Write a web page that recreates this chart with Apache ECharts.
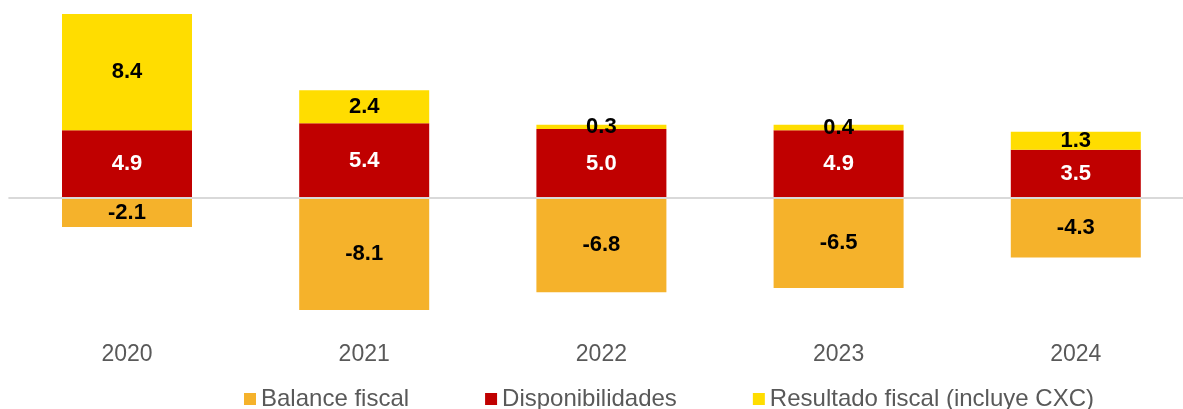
<!DOCTYPE html>
<html>
<head>
<meta charset="utf-8">
<script src="https://cdn.jsdelivr.net/npm/echarts@6/dist/echarts.min.js"></script>
<style>
  html, body { margin: 0; padding: 0; background: #ffffff; overflow: hidden; }
  #chart { width: 1200px; height: 409px; }
</style>
</head>
<body>
<div id="chart"></div>
<script>
// Years on the horizontal axis
const years = ['2020', '2021', '2022', '2023', '2024'];
// Stacked components, % values
const balanceFiscal = [-2.1, -8.1, -6.8, -6.5, -4.3];
const disponibilidades = [4.9, 5.4, 5.0, 4.9, 3.5];
const resultadoFiscal = [8.4, 2.4, 0.3, 0.4, 1.3];

const seriesNames = ['Balance fiscal', 'Disponibilidades', 'Resultado fiscal (incluye CXC)'];
const colors = ['#F5B22B', '#C00000', '#FFDD00'];
const labelColors = ['#000000', '#ffffff', '#000000'];
const FONT = '"Liberation Sans", Arial, sans-serif';

const chart = echarts.init(document.getElementById('chart'), null, { renderer: 'canvas' });

function barSeries(i, data) {
  return {
    name: seriesNames[i],
    type: 'bar',
    stack: 'total',
    barWidth: 130,
    data: data,
    itemStyle: { color: colors[i] },
    label: {
      show: true,
      position: 'inside',
      color: labelColors[i],
      fontFamily: FONT,
      fontWeight: 'bold',
      fontSize: 22,
      formatter: p => p.value.toFixed(1)
    },
    emphasis: { disabled: true }
  };
}

// zero reference line across the plot
const s0 = barSeries(0, balanceFiscal);
s0.markLine = {
  silent: true,
  symbol: 'none',
  label: { show: false },
  lineStyle: { color: '#d9d9d9', width: 2, type: 'solid' },
  data: [{ yAxis: 0 }]
};

chart.setOption({
  animation: false,
  color: colors,
  grid: { left: 8.4, top: 4.4, width: 1186, height: 332, containLabel: false },
  legend: {
    top: 387,
    left: 244,
    padding: 0,
    itemWidth: 12,
    itemHeight: 12,
    itemGap: 76,
    icon: 'rect',
    textStyle: { color: '#595959', fontSize: 24, fontFamily: FONT },
    data: seriesNames
  },
  xAxis: {
    type: 'category',
    data: years,
    axisLine: { show: false, onZero: false },
    axisTick: { show: false },
    axisLabel: { color: '#595959', fontSize: 23, fontFamily: FONT, margin: 7 }
  },
  yAxis: {
    type: 'value',
    min: -10,
    max: 14,
    show: false,
    splitLine: { show: false }
  },
  series: [
    s0,
    barSeries(1, disponibilidades),
    barSeries(2, resultadoFiscal)
  ]
});
</script>
</body>
</html>
